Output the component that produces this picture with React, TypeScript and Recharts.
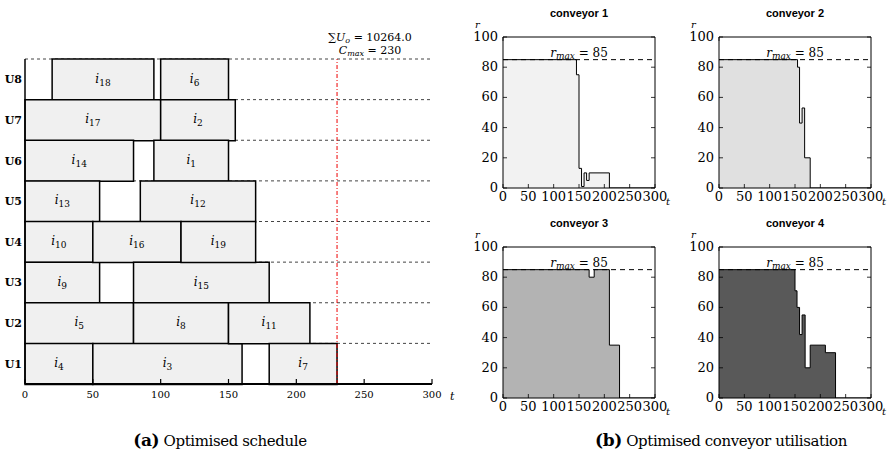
import React from 'react';
import { BarChart, Bar, XAxis, YAxis, CartesianGrid, ReferenceLine, LabelList, AreaChart, Area } from 'recharts';

const SERIF = '"DejaVu Serif", "Liberation Serif", serif';
const SANS = '"Liberation Sans", Arial, sans-serif';

// ---------- Gantt data (rows top to bottom) ----------
const units = ['U8', 'U7', 'U6', 'U5', 'U4', 'U3', 'U2', 'U1'];
const slot1Task = ['18', '17', '14', '13', '10', '9', '5', '4'];
const slot1Start = [20, 0, 0, 0, 0, 0, 0, 0];
const slot1End = [95, 100, 80, 55, 50, 55, 80, 50];
const slot2Task = ['6', '2', '1', '12', '16', '15', '8', '3'];
const slot2Start = [100, 100, 95, 85, 50, 80, 80, 50];
const slot2End = [150, 155, 150, 170, 115, 180, 150, 160];
const slot3Task = [null, null, null, null, '19', null, '11', '7'];
const slot3Start = [null, null, null, null, 115, null, 150, 180];
const slot3End = [null, null, null, null, 170, null, 210, 230];

const timeTicks = [0, 50, 100, 150, 200, 250, 300];
const makespan = 230;
const objectiveValue = '10264.0';

// ---------- Conveyor utilisation (step functions) ----------
const conv1T = [0, 145, 150, 155, 160, 165, 170, 210, 300];
const conv1R = [85, 75, 13, 1, 10, 5, 10, 0, 0];
const conv2T = [0, 155, 159, 164, 169, 180, 300];
const conv2R = [85, 80, 43, 53, 20, 0, 0];
const conv3T = [0, 170, 180, 210, 230, 300];
const conv3R = [85, 80, 85, 35, 0, 0];
const conv4T = [0, 150, 154, 159, 164, 170, 180, 210, 230, 300];
const conv4R = [85, 71, 60, 42, 55, 20, 35, 30, 0, 0];
const rTicks = [0, 20, 40, 60, 80, 100];
const rMax = 85;

const ganttRows = units.map((u, i) => {
  const row: any = {
    unit: u,
    g1: slot1Start[i],
    d1: slot1End[i] - slot1Start[i],
    l1: slot1Task[i],
    g2: slot2Start[i] - slot1End[i],
    d2: slot2End[i] - slot2Start[i],
    l2: slot2Task[i],
  };
  if (slot3Task[i] !== null) {
    row.g3 = (slot3Start[i] as number) - slot2End[i];
    row.d3 = (slot3End[i] as number) - (slot3Start[i] as number);
    row.l3 = slot3Task[i];
  }
  return row;
});

function GanttTick(props: any) {
  const { x, y, payload } = props;
  return (
    <g>
      <line x1={x} x2={x} y1={y} y2={y - 5} stroke="#000" strokeWidth={1.2} />
      <text x={x} y={y + 14} textAnchor="middle" fontFamily={SERIF} fontSize={10} fill="#000">{payload.value}</text>
    </g>
  );
}

function UnitTick(props: any) {
  const { x, y, payload } = props;
  return (
    <text x={x - 3} y={y + 4} textAnchor="end" fontFamily={SERIF} fontWeight="bold" fontSize={11} fill="#000">{payload.value}</text>
  );
}

function TaskLabel(props: any) {
  const x = Number(props.x), y = Number(props.y), w = Number(props.width), h = Number(props.height);
  if (props.value === undefined || props.value === null) return null;
  return (
    <text x={x + w / 2} y={y + h / 2 + 3} textAnchor="middle" fontFamily={SERIF} fontSize={12} fill="#000">
      <tspan fontStyle="italic">i</tspan>
      <tspan fontSize={9} dy={3}>{props.value}</tspan>
    </text>
  );
}

const rowBoundaries = (args: any) => {
  const o = args.offset;
  return units.map((_, i) => o.top + (i * o.height) / units.length);
};

const makespanLabel = (p: any) => {
  const vb = p.viewBox || {};
  const cx = vb.x + 33;
  return (
    <g>
      <text x={cx} y={vb.y - 18} textAnchor="middle" fontFamily={SERIF} fontSize={11} fill="#000">
        <tspan>∑</tspan>
        <tspan fontStyle="italic">U</tspan>
        <tspan fontSize={8} fontStyle="italic" dy={2}>o</tspan>
        <tspan dy={-2}>{' = ' + objectiveValue}</tspan>
      </text>
      <text x={cx} y={vb.y - 5} textAnchor="middle" fontFamily={SERIF} fontSize={11} fill="#000">
        <tspan fontStyle="italic">C</tspan>
        <tspan fontSize={8} fontStyle="italic" dy={2}>max</tspan>
        <tspan dy={-2}>{' = ' + makespan}</tspan>
      </text>
    </g>
  );
};

const ganttTLabel = (p: any) => {
  const vb = p.viewBox || {};
  return (
    <text x={vb.x + vb.width + 18} y={vb.y + 16} fontFamily={SERIF} fontStyle="italic" fontSize={11} fill="#000">t</text>
  );
};

function Gantt() {
  return (
    <div style={{ position: 'absolute', left: 0, top: 0 }}>
      <BarChart width={470} height={420} data={ganttRows} layout="vertical" margin={{ top: 59, right: 38, bottom: 16, left: 0 }} barCategoryGap={0}>
        <CartesianGrid horizontal vertical={false} stroke="#444" strokeDasharray="3 3" horizontalCoordinatesGenerator={rowBoundaries} />
        <XAxis type="number" domain={[0, 300]} ticks={timeTicks} interval={0} tickSize={0} tickMargin={0} tick={<GanttTick />} axisLine={{ stroke: '#000', strokeWidth: 2 }} tickLine={false} height={20} label={ganttTLabel} />
        <YAxis type="category" dataKey="unit" width={25} tickSize={0} tickMargin={0} tick={<UnitTick />} axisLine={{ stroke: '#000', strokeWidth: 1.5 }} tickLine={false} />
        <Bar dataKey="g1" stackId="s" fill="transparent" isAnimationActive={false} />
        <Bar dataKey="d1" stackId="s" fill="#f0f0f0" stroke="#000" strokeWidth={1.5} isAnimationActive={false}>
          <LabelList dataKey="l1" content={TaskLabel} />
        </Bar>
        <Bar dataKey="g2" stackId="s" fill="transparent" isAnimationActive={false} />
        <Bar dataKey="d2" stackId="s" fill="#f0f0f0" stroke="#000" strokeWidth={1.5} isAnimationActive={false}>
          <LabelList dataKey="l2" content={TaskLabel} />
        </Bar>
        <Bar dataKey="g3" stackId="s" fill="transparent" isAnimationActive={false} />
        <Bar dataKey="d3" stackId="s" fill="#f0f0f0" stroke="#000" strokeWidth={1.5} isAnimationActive={false}>
          <LabelList dataKey="l3" content={TaskLabel} />
        </Bar>
        <ReferenceLine x={makespan} stroke="#e00" strokeDasharray="4 2 1 2" strokeWidth={1} label={makespanLabel} />
      </BarChart>
    </div>
  );
}

function SmallXTick(props: any) {
  const { x, y, payload } = props;
  return (
    <g>
      <line x1={x} x2={x} y1={y} y2={y - 4} stroke="#000" strokeWidth={0.8} />
      <text x={x} y={y + 13} textAnchor="middle" fontFamily={SERIF} fontSize={13} fill="#000">{payload.value}</text>
    </g>
  );
}
function TopTick(props: any) {
  const { x, y } = props;
  return <line x1={x} x2={x} y1={y} y2={y + 4} stroke="#000" strokeWidth={0.8} />;
}
function LeftTick(props: any) {
  const { x, y, payload } = props;
  return (
    <g>
      <line x1={x} x2={x + 4} y1={y} y2={y} stroke="#000" strokeWidth={0.8} />
      <text x={x - 5} y={y + 4} textAnchor="end" fontFamily={SERIF} fontSize={13} fill="#000">{payload.value}</text>
    </g>
  );
}
function RightTick(props: any) {
  const { x, y } = props;
  return <line x1={x} x2={x - 4} y1={y} y2={y} stroke="#000" strokeWidth={0.8} />;
}

function Conveyor({ title, ts, rs, fill, left, top }: any) {
  const data = ts.map((t: number, i: number) => ({ t, r: rs[i] }));
  const titleLabel = (p: any) => {
    const vb = p.viewBox || {};
    return (
      <text x={vb.x + vb.width / 2} y={vb.y - 19} textAnchor="middle" fontFamily={SANS} fontWeight="bold" fontSize={11} fill="#000">{title}</text>
    );
  };
  const tLabel = (p: any) => {
    const vb = p.viewBox || {};
    return <text x={vb.x + vb.width + 11} y={vb.y + 17} fontFamily={SERIF} fontStyle="italic" fontSize={10} fill="#000">t</text>;
  };
  const rLabel = (p: any) => {
    const vb = p.viewBox || {};
    return <text x={vb.x + 2} y={vb.y - 9} fontFamily={SERIF} fontStyle="italic" fontSize={10} fill="#000">r</text>;
  };
  const rmaxLabel = (p: any) => {
    const vb = p.viewBox || {};
    return (
      <text x={vb.x + vb.width / 2} y={vb.y - 3} textAnchor="middle" fontFamily={SERIF} fontSize={12} fill="#000">
        <tspan fontStyle="italic">r</tspan>
        <tspan fontStyle="italic" fontSize={9} dy={2}>max</tspan>
        <tspan dy={-2}>{' = ' + rMax}</tspan>
      </text>
    );
  };
  return (
    <div style={{ position: 'absolute', left, top }}>
      <AreaChart width={218} height={210} data={data} margin={{ top: 36, right: 22, bottom: 2, left: 13 }}>
        <XAxis dataKey="t" type="number" domain={[0, 300]} ticks={timeTicks} interval={0} tickSize={0} tickMargin={0} height={20} tick={<SmallXTick />} tickLine={false} axisLine={{ stroke: '#000' }} label={tLabel} allowDataOverflow />
        <XAxis xAxisId="top" orientation="top" type="number" domain={[0, 300]} ticks={timeTicks} interval={0} tickSize={0} tickMargin={0} height={1} tick={<TopTick />} tickLine={false} axisLine={{ stroke: '#000' }} label={titleLabel} allowDataOverflow />
        <YAxis type="number" domain={[0, 100]} ticks={rTicks} interval={0} width={30} tickSize={0} tickMargin={0} tick={<LeftTick />} tickLine={false} axisLine={{ stroke: '#000' }} label={rLabel} allowDataOverflow />
        <YAxis yAxisId="right" orientation="right" type="number" domain={[0, 100]} ticks={rTicks} interval={0} width={1} tickSize={0} tickMargin={0} tick={<RightTick />} tickLine={false} axisLine={{ stroke: '#000' }} allowDataOverflow />
        <Area type="stepAfter" dataKey="r" stroke="#000" strokeWidth={1} fill={fill} fillOpacity={1} isAnimationActive={false} dot={false} activeDot={false} />
        <ReferenceLine y={rMax} stroke="#000" strokeDasharray="5 4" strokeWidth={1} label={rmaxLabel} />
      </AreaChart>
    </div>
  );
}

export default function App() {
  return (
    <div style={{ position: 'absolute', left: 0, top: 0, width: 894, height: 461, background: '#fff', overflow: 'hidden' }}>
      <Gantt />
      <Conveyor title="conveyor 1" ts={conv1T} rs={conv1R} fill="#f2f2f2" left={460} top={0} />
      <Conveyor title="conveyor 2" ts={conv2T} rs={conv2R} fill="#e0e0e0" left={676} top={0} />
      <Conveyor title="conveyor 3" ts={conv3T} rs={conv3R} fill="#b3b3b3" left={460} top={210} />
      <Conveyor title="conveyor 4" ts={conv4T} rs={conv4R} fill="#595959" left={676} top={210} />
      <div style={{ position: 'absolute', left: 0, top: 430, width: 440, textAlign: 'center', fontFamily: SERIF, fontSize: 15, letterSpacing: -0.4, color: '#000', whiteSpace: 'nowrap' }}>
        <b style={{ fontSize: 17 }}>(a)</b> Optimised schedule
      </div>
      <div style={{ position: 'absolute', left: 548, top: 430, width: 346, textAlign: 'center', fontFamily: SERIF, fontSize: 15, letterSpacing: -0.4, color: '#000', whiteSpace: 'nowrap' }}>
        <b style={{ fontSize: 17 }}>(b)</b> Optimised conveyor utilisation
      </div>
    </div>
  );
}
